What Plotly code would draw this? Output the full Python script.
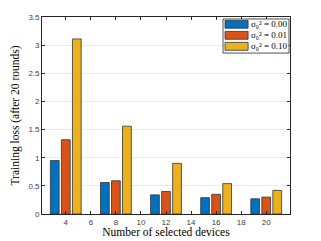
import plotly.graph_objects as go

devices = [4, 8, 12, 16, 20]
loss_s000 = [0.95, 0.56, 0.34, 0.29, 0.27]
loss_s001 = [1.32, 0.59, 0.40, 0.35, 0.30]
loss_s010 = [3.11, 1.56, 0.90, 0.54, 0.42]
series_names = ["σ₀² = 0.00", "σ₀² = 0.01", "σ₀² = 0.10"]
colors = ["#0072BD", "#D95319", "#EDB120"]
x_ticks = [4, 6, 8, 10, 12, 14, 16, 18, 20]
y_ticks = [0, 0.5, 1, 1.5, 2, 2.5, 3, 3.5]

offsets = [-0.88, 0.0, 0.88]
fig = go.Figure()
for vals, name, col, off in zip([loss_s000, loss_s001, loss_s010], series_names, colors, offsets):
    fig.add_trace(go.Bar(
        x=devices, y=vals, name=name, width=0.7, offset=off - 0.35,
        marker=dict(color=col, line=dict(color="#333333", width=0.8)),
        showlegend=False,
    ))

# custom legend (wide MATLAB-style swatches) in axis-domain coordinates
fig.add_shape(type="rect", xref="x domain", yref="y domain",
              x0=0.730, x1=0.996, y0=0.817, y1=0.990,
              fillcolor="white", line=dict(color="#262626", width=0.8), layer="above")
row_y = [0.963, 0.907, 0.851]
for name, col, ry in zip(series_names, colors, row_y):
    fig.add_shape(type="rect", xref="x domain", yref="y domain",
                  x0=0.738, x1=0.831, y0=ry - 0.020, y1=ry + 0.020,
                  fillcolor=col, line=dict(color="#333333", width=0.8), layer="above")
    fig.add_annotation(xref="x domain", yref="y domain", x=0.834, y=ry,
                       xanchor="left", yanchor="middle", showarrow=False,
                       text=name, font=dict(family="Liberation Serif", size=9, color="#000000"))

axis_common = dict(
    showline=True, linecolor="#262626", linewidth=0.8, mirror="ticks",
    ticks="inside", ticklen=3, tickcolor="#262626",
    tickfont=dict(family="Liberation Sans", size=8, color="#404040"),
    zeroline=False, automargin=False,
)
# the page body adds an 8 px offset, so the figure is 8 px smaller and margins compensate
fig.update_layout(
    width=313, height=233,
    margin=dict(l=34, r=31, t=9, b=27),
    plot_bgcolor="white", paper_bgcolor="white",
    barmode="overlay",
    showlegend=False,
    xaxis=dict(
        range=[2.1, 21.9], tickvals=x_ticks, showgrid=False,
        title=dict(text="Number of selected devices", standoff=1,
                   font=dict(family="Liberation Serif", size=11.5, color="#000000")),
        **axis_common,
    ),
    yaxis=dict(
        range=[0, 3.5], tickvals=y_ticks, ticktext=["0", "0.5", "1", "1.5", "2", "2.5", "3", "3.5"],
        showgrid=True, gridcolor="#ebebeb", gridwidth=0.8,
        title=dict(text="Training loss (after 20 rounds)", standoff=6,
                   font=dict(family="Liberation Serif", size=11.5, color="#000000")),
        **axis_common,
    ),
)
fig.write_html("out.html")
